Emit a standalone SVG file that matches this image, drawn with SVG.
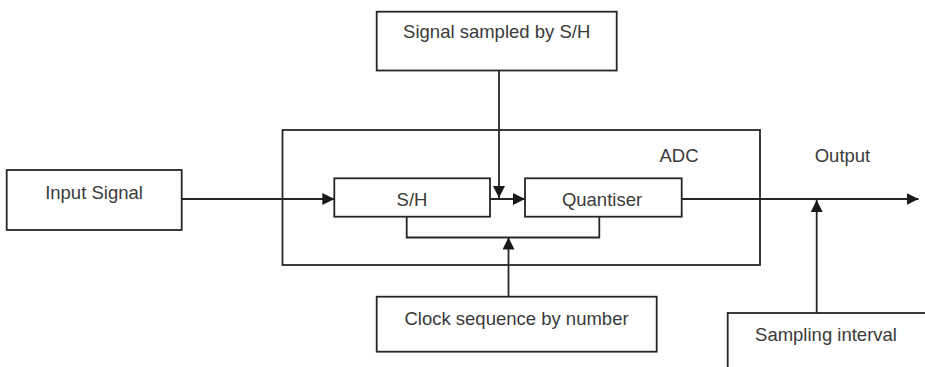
<svg xmlns="http://www.w3.org/2000/svg" width="925" height="367" viewBox="0 0 925 367">
  <style>
    .box { fill: #ffffff; stroke: #262626; stroke-width: 1.8; }
    .line { fill: none; stroke: #262626; stroke-width: 1.8; }
    .lbl { font-family: "Liberation Sans", Arial, sans-serif; font-size: 18.5px; fill: #3a3a3a; text-anchor: middle; }
  </style>
  <defs>
    <marker id="arrow" markerUnits="userSpaceOnUse" markerWidth="12" markerHeight="12" refX="12" refY="6" orient="auto">
      <path d="M0,0 L12,6 L0,12 Z" fill="#1a1a1a"/>
    </marker>
  </defs>
  <rect width="925" height="367" fill="#ffffff"/>

  <g id="adc">
    <rect class="box" x="282.5" y="130" width="477.5" height="135"/>
    <text class="lbl" x="679" y="162">ADC</text>
  </g>

  <g id="connectors">
    <line class="line" x1="181.7" y1="199" x2="334.3" y2="199" marker-end="url(#arrow)"/>
    <line class="line" x1="490" y1="199" x2="525" y2="199" marker-end="url(#arrow)"/>
    <line class="line" x1="681.7" y1="199" x2="918.5" y2="199" marker-end="url(#arrow)"/>
    <line class="line" x1="499" y1="70.5" x2="499" y2="198" marker-end="url(#arrow)"/>
    <polyline class="line" points="406.7,216.7 406.7,237.5 599.3,237.5 599.3,216.7"/>
    <line class="line" x1="508.5" y1="296.7" x2="508.5" y2="237.5" marker-end="url(#arrow)"/>
    <line class="line" x1="816.7" y1="313" x2="816.7" y2="200" marker-end="url(#arrow)"/>
  </g>

  <g id="input-signal">
    <rect class="box" x="6.7" y="170" width="175" height="60"/>
    <text class="lbl" x="94" y="199">Input Signal</text>
  </g>

  <g id="signal-sampled">
    <rect class="box" x="376.7" y="11.7" width="240" height="58.8"/>
    <text class="lbl" x="496.7" y="38">Signal sampled by S/H</text>
  </g>

  <g id="sh">
    <rect class="box" x="334.3" y="178.3" width="155.7" height="38.4"/>
    <text class="lbl" x="412" y="206">S/H</text>
  </g>

  <g id="quantiser">
    <rect class="box" x="525" y="178.3" width="156.7" height="38.4"/>
    <text class="lbl" x="602" y="206">Quantiser</text>
  </g>

  <g id="output">
    <text class="lbl" x="842.5" y="162">Output</text>
  </g>

  <g id="clock">
    <rect class="box" x="376.7" y="296.7" width="280" height="55"/>
    <text class="lbl" x="516.5" y="325">Clock sequence by number</text>
  </g>

  <g id="sampling-interval">
    <rect class="box" x="727.7" y="313" width="220" height="80"/>
    <text class="lbl" x="826" y="341">Sampling interval</text>
  </g>
</svg>
